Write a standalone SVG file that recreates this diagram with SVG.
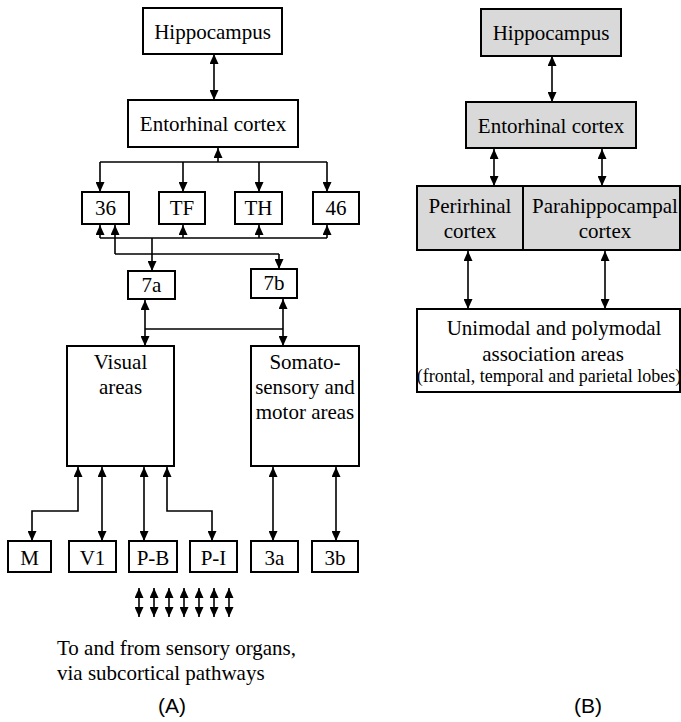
<svg xmlns="http://www.w3.org/2000/svg" width="681" height="722" viewBox="0 0 681 722">
  <defs>
    <marker id="head" viewBox="0 0 10 9" refX="10" refY="4.5" markerWidth="10" markerHeight="9" markerUnits="userSpaceOnUse" orient="auto-start-reverse">
      <path d="M0,0 L10,4.5 L0,9 z" fill="#000"/>
    </marker>
  </defs>
  <style>
    .box { fill: #fff; stroke: #000; stroke-width: 2; }
    .grey { fill: #d9d9d9; }
    .lbl { font-family: "Liberation Serif", "Times New Roman", serif; font-size: 21px; fill: #000; text-anchor: middle; }
    .small { font-size: 18px; }
    .note { font-family: "Liberation Serif", "Times New Roman", serif; font-size: 21px; fill: #000; }
    .tag { font-family: "Liberation Sans", Arial, sans-serif; font-size: 21px; fill: #000; text-anchor: middle; }
    .wire { fill: none; stroke: #000; stroke-width: 1.6; }
    .one { marker-end: url(#head); }
    .two { marker-start: url(#head); marker-end: url(#head); }
  </style>

  <!-- Panel A: connectors -->
  <g id="connectors-a">
    <path class="wire two" d="M214,54 V100"/>
    <!-- entorhinal fan-out bus -->
    <path class="wire one" d="M218,162 V148"/>
    <path class="wire" d="M100,162 H327"/>
    <path class="wire one" d="M100,162 V192"/>
    <path class="wire one" d="M183,162 V192"/>
    <path class="wire one" d="M259,162 V192"/>
    <path class="wire one" d="M327,162 V192"/>
    <!-- return bus from 7a -->
    <path class="wire" d="M100,238 H327"/>
    <path class="wire one" d="M100,238 V225"/>
    <path class="wire one" d="M183,238 V225"/>
    <path class="wire one" d="M259,238 V225"/>
    <path class="wire one" d="M327,238 V225"/>
    <path class="wire one" d="M152,238 V271"/>
    <!-- return bus from 7b -->
    <path class="wire" d="M115,254 H279"/>
    <path class="wire one" d="M115,254 V225"/>
    <path class="wire one" d="M279,254 V269"/>
    <!-- parietal to sensory/motor -->
    <path class="wire two" d="M145,300 V346"/>
    <path class="wire two" d="M283,299 V346"/>
    <path class="wire" d="M145,329 H283"/>
    <!-- visual area inputs -->
    <path class="wire two" d="M78,467 V511 H32 V541"/>
    <path class="wire two" d="M102,467 V541"/>
    <path class="wire two" d="M144,467 V541"/>
    <path class="wire two" d="M167,467 V511 H212 V541"/>
    <!-- somatosensory inputs -->
    <path class="wire two" d="M273,467 V541"/>
    <path class="wire two" d="M336,467 V541"/>
    <!-- subcortical pathways -->
    <path class="wire two" d="M139,588 V617"/>
    <path class="wire two" d="M154,588 V617"/>
    <path class="wire two" d="M169,588 V617"/>
    <path class="wire two" d="M184,588 V617"/>
    <path class="wire two" d="M199,588 V617"/>
    <path class="wire two" d="M214,588 V617"/>
    <path class="wire two" d="M229,588 V617"/>
  </g>

  <!-- Panel A: nodes -->
  <g id="a-hippocampus"><rect class="box" x="143" y="8" width="139" height="46"/><text class="lbl" x="212.5" y="39">Hippocampus</text></g>
  <g id="a-entorhinal"><rect class="box" x="128" y="100" width="170" height="47"/><text class="lbl" x="213" y="131">Entorhinal cortex</text></g>
  <g id="a-36"><rect class="box" x="82" y="192" width="47" height="32"/><text class="lbl" x="105.5" y="215">36</text></g>
  <g id="a-tf"><rect class="box" x="159" y="192" width="46" height="32"/><text class="lbl" x="182" y="215">TF</text></g>
  <g id="a-th"><rect class="box" x="235" y="192" width="47" height="32"/><text class="lbl" x="258.5" y="215">TH</text></g>
  <g id="a-46"><rect class="box" x="313" y="192" width="46" height="32"/><text class="lbl" x="336" y="215">46</text></g>
  <g id="a-7a"><rect class="box" x="128" y="271" width="47" height="28"/><text class="lbl" x="151.5" y="292">7a</text></g>
  <g id="a-7b"><rect class="box" x="251" y="269" width="46" height="29"/><text class="lbl" x="274" y="290">7b</text></g>
  <g id="a-visual"><rect class="box" x="67" y="346" width="107" height="120"/><text class="lbl" x="120.5" y="369">Visual</text><text class="lbl" x="120.5" y="394">areas</text></g>
  <g id="a-somato"><rect class="box" x="251" y="346" width="108" height="120"/><text class="lbl" x="305" y="369">Somato-</text><text class="lbl" x="305" y="394">sensory and</text><text class="lbl" x="305" y="419">motor areas</text></g>
  <g id="a-m"><rect class="box" x="8" y="541" width="43" height="31"/><text class="lbl" x="29.5" y="565">M</text></g>
  <g id="a-v1"><rect class="box" x="69" y="541" width="47" height="31"/><text class="lbl" x="92.5" y="565">V1</text></g>
  <g id="a-pb"><rect class="box" x="129" y="541" width="48" height="31"/><text class="lbl" x="153" y="565">P-B</text></g>
  <g id="a-pi"><rect class="box" x="190" y="541" width="47" height="31"/><text class="lbl" x="213.5" y="565">P-I</text></g>
  <g id="a-3a"><rect class="box" x="251" y="541" width="47" height="31"/><text class="lbl" x="274.5" y="565">3a</text></g>
  <g id="a-3b"><rect class="box" x="312" y="541" width="46" height="31"/><text class="lbl" x="335" y="565">3b</text></g>

  <g id="a-caption">
    <text class="note" x="57" y="655">To and from sensory organs,</text>
    <text class="note" x="57" y="680">via subcortical pathways</text>
    <text class="tag" x="172" y="713">(A)</text>
  </g>

  <!-- Panel B: connectors -->
  <g id="connectors-b">
    <path class="wire two" d="M552,56 V102"/>
    <path class="wire two" d="M494,149 V186"/>
    <path class="wire two" d="M602,149 V186"/>
    <path class="wire two" d="M468,251 V309"/>
    <path class="wire two" d="M605,251 V309"/>
  </g>

  <!-- Panel B: nodes -->
  <g id="b-hippocampus"><rect class="box grey" x="481" y="9" width="140" height="47"/><text class="lbl" x="551" y="40">Hippocampus</text></g>
  <g id="b-entorhinal"><rect class="box grey" x="466" y="102" width="170" height="46"/><text class="lbl" x="551" y="133">Entorhinal cortex</text></g>
  <g id="b-perirhinal"><rect class="box grey" x="417" y="186" width="106" height="64"/><text class="lbl" x="470" y="213">Perirhinal</text><text class="lbl" x="470" y="238">cortex</text></g>
  <g id="b-parahippocampal"><rect class="box grey" x="523" y="186" width="157" height="64"/><text class="lbl" x="605" y="213">Parahippocampal</text><text class="lbl" x="605" y="238">cortex</text></g>
  <g id="b-association"><rect class="box" x="417" y="309" width="263" height="83"/><text class="lbl" x="554" y="335">Unimodal and polymodal</text><text class="lbl" x="553" y="361">association areas</text><text class="lbl small" x="549" y="382">(frontal, temporal and parietal lobes)</text></g>

  <g id="b-caption">
    <text class="tag" x="588" y="713">(B)</text>
  </g>
</svg>
